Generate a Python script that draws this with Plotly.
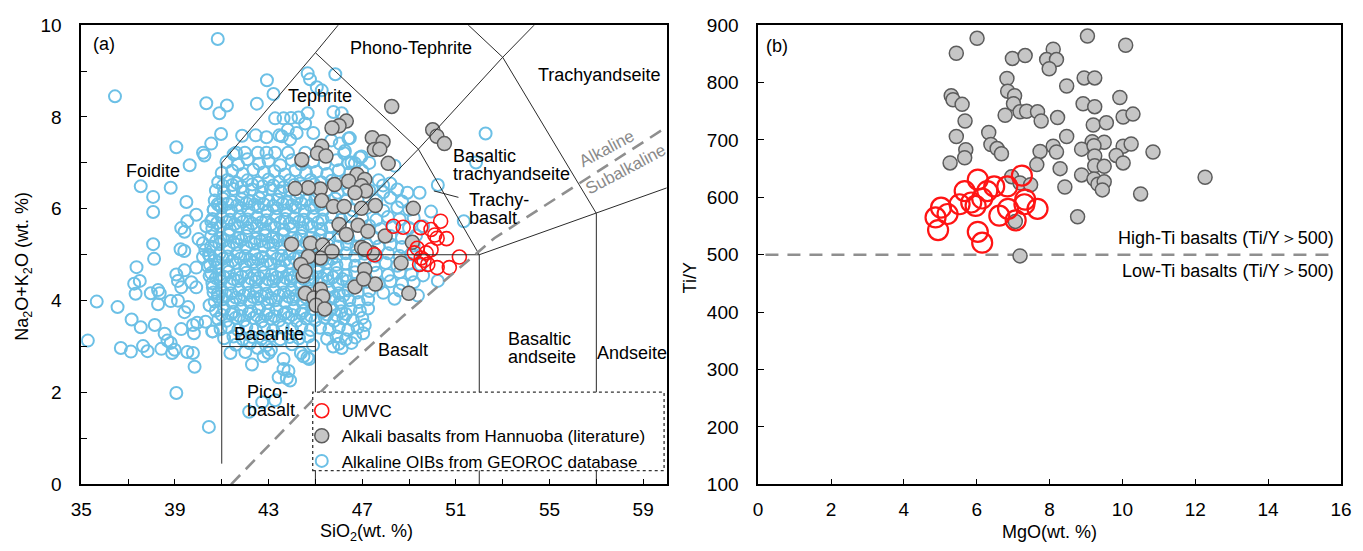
import plotly.graph_objects as go

# Figure size; the captured page is slightly rescaled, so positions are given in picture pixels
# and converted to figure (paper) coordinates with the measured scale/offset.
W, H = 1363, 551
SX, OX = 0.9884, 7.9
SY, OY = 0.97178, 7.77


def px(p):
    return ((p - OX) / SX) / W


def py(p):
    q = (p + 7.6) / 1.0095
    return 1 - ((q - OY) / SY) / H


# ---------------- Panel (a): TAS data ----------------
umvc_sio2 = [48.33, 48.75, 49.50, 49.94, 50.35, 50.10, 50.60, 50.20, 47.52, 49.23, 49.35, 49.52,
             49.73, 49.94, 49.45, 49.80, 50.20, 50.72, 51.15, 49.64]
umvc_alk = [5.62, 5.60, 5.59, 5.55, 5.73, 5.43, 5.35, 5.36, 5.00, 5.04, 5.14, 4.93,
            5.04, 5.11, 4.79, 4.79, 4.72, 4.72, 4.95, 4.88]

hann_sio2 = [48.26, 50.01, 50.19, 50.51, 46.32, 46.01, 45.71, 47.43, 47.89, 47.52, 47.75, 45.27,
             45.09, 45.45, 44.42, 48.11, 46.78, 46.42, 47.11, 46.97, 47.15, 46.69, 45.82, 45.21,
             44.70, 44.14, 45.27, 45.77, 46.23, 46.97, 47.56, 49.18, 46.01, 46.82, 46.32, 47.24,
             47.98, 49.14, 43.98, 44.79, 45.31, 45.71, 45.21, 44.70, 44.38, 46.97, 47.43, 47.11,
             48.66, 44.48, 44.57, 45.21, 44.94, 45.31, 45.03, 45.40, 46.69, 47.56, 47.06, 48.99,
             44.56, 47.11]
hann_alk = [8.23, 7.72, 7.58, 7.42, 7.91, 7.81, 7.76, 7.55, 7.46, 7.29, 7.30, 7.36,
            7.21, 7.15, 7.07, 6.99, 6.75, 6.60, 6.64, 6.50, 6.39, 6.35, 6.53, 6.43,
            6.46, 6.44, 6.18, 6.05, 6.05, 6.01, 6.07, 6.01, 5.66, 5.64, 5.44, 5.51,
            5.41, 5.27, 5.23, 5.25, 5.21, 5.07, 4.93, 4.96, 4.79, 5.16, 5.04, 4.68,
            4.82, 4.54, 4.16, 4.25, 4.06, 4.09, 3.90, 3.82, 4.30, 4.36, 4.47, 4.16,
            4.64, 5.12]

# Alkaline OIBs (GEOROC): scattered points read individually
oib_outer = [
    (40.83, 9.70), (36.44, 8.45), (40.34, 8.30), (41.22, 8.25), (40.90, 8.08), (40.97, 7.63),
    (39.06, 7.34), (40.55, 7.42), (40.20, 7.22), (40.26, 7.16), (39.63, 6.95), (37.54, 6.49),
    (38.82, 6.46), (38.07, 6.26), (38.07, 5.93), (39.49, 6.15), (39.91, 5.87), (40.66, 5.98),
    (40.83, 6.10), (39.27, 5.58), (39.41, 5.50), (39.53, 5.73), (40.34, 5.62), (40.55, 5.73),
    (40.01, 5.34), (38.07, 5.23), (39.24, 5.12), (39.40, 5.08), (40.20, 5.25), (40.30, 5.10),
    (40.45, 5.00), (37.36, 4.73), (38.11, 4.91), (37.26, 4.37), (37.50, 4.43), (37.32, 4.15),
    (35.66, 3.98), (36.55, 3.86), (37.97, 4.16), (38.28, 4.23), (38.35, 4.16), (38.28, 3.92),
    (38.82, 3.99), (37.15, 3.59), (37.54, 3.42), (38.14, 3.47), (35.28, 3.13), (36.69, 2.97),
    (37.12, 2.89), (37.64, 3.01), (37.83, 2.90), (38.42, 2.95), (38.56, 3.28), (38.68, 3.13),
    (38.82, 3.08), (38.99, 2.93), (38.88, 2.86), (39.27, 3.38), (39.53, 2.88), (39.77, 2.86),
    (39.84, 2.56), (39.06, 1.99), (40.45, 1.25), (39.41, 3.75), (39.56, 3.86), (39.77, 3.47),
    (39.81, 3.29), (39.95, 3.52), (40.62, 3.33), (40.48, 3.90), (39.13, 4.43), (39.27, 4.29),
    (39.06, 4.57), (39.41, 4.66), (39.91, 4.72), (39.91, 4.29), (39.70, 4.40), (39.13, 4.00),
    (40.41, 4.75), (40.76, 4.72), (40.48, 4.54), (40.62, 4.29), (40.83, 4.15), (40.20, 4.95),
    (42.93, 8.80), (43.21, 8.50), (44.67, 8.95), (44.77, 8.82), (45.06, 8.65), (45.27, 8.58),
    (42.50, 8.29), (41.87, 7.59), (41.51, 7.19), (43.28, 7.97), (43.64, 7.97), (43.96, 7.98),
    (44.28, 7.99), (44.67, 8.08), (44.56, 7.86), (43.82, 7.72), (43.57, 7.58), (44.20, 7.65),
    (43.92, 7.51), (44.91, 7.65), (45.85, 8.93), (45.77, 8.11), (46.12, 8.08), (46.47, 7.54),
    (46.26, 7.26), (46.54, 7.01), (46.90, 7.12), (48.38, 6.94), (52.27, 7.64), (51.86, 7.01),
    (50.23, 6.52), (48.93, 6.35), (49.45, 6.35), (49.94, 5.94), (51.34, 5.73), (47.89, 6.51),
    (42.45, 7.60), (42.91, 7.56), (43.46, 7.60), (41.61, 7.22), (41.99, 7.22), (42.54, 7.22),
    (42.91, 7.22), (43.28, 7.22), (43.83, 7.22), (44.57, 7.22), (45.68, 7.49), (46.04, 7.42),
    (46.41, 7.53), (46.23, 7.21), (46.69, 6.99), (46.41, 6.99), (46.97, 7.14),
    (40.59, 3.33), (41.37, 2.86), (42.01, 2.88), (42.29, 2.61), (43.64, 2.73), (43.64, 2.51),
    (43.85, 2.47), (43.43, 2.33), (43.78, 2.31), (43.92, 2.26), (44.49, 2.79), (44.73, 2.73),
    (40.31, 3.54), (42.79, 2.79), (43.00, 2.86), (42.73, 1.79), (43.28, 1.83), (42.17, 1.58),
    (42.54, 2.97), (43.10, 2.93), (44.38, 2.86), (44.66, 2.76), (50.23, 4.43), (49.38, 4.11),
    (48.38, 4.04), (47.11, 3.47), (47.04, 3.29), (46.54, 3.08), (46.12, 2.97), (45.76, 3.00),
]

# Alkaline OIBs: the dense central cloud, estimated row by row
oib_core = [
    (41.2, 7.02), (41.7, 6.96), (42.1, 7.08), (42.6, 6.98), (43.0, 7.05), (43.5, 6.95), (44.0, 7.06),
    (44.4, 6.97), (44.9, 7.03), (45.4, 6.98), (45.9, 7.06), (47.3, 7.00),
    (41.0, 6.78), (41.45, 6.83), (41.9, 6.76), (42.35, 6.85), (42.8, 6.79), (43.25, 6.82), (43.7, 6.75),
    (44.15, 6.84), (44.6, 6.78), (45.05, 6.81), (45.5, 6.76), (46.0, 6.84), (46.5, 6.79), (47.0, 6.83),
    (40.85, 6.58), (41.25, 6.63), (41.65, 6.56), (42.1, 6.62), (42.55, 6.57), (43.0, 6.64), (43.45, 6.59),
    (43.9, 6.62), (44.35, 6.55), (44.8, 6.63), (45.25, 6.58), (45.7, 6.61), (46.2, 6.56), (47.7, 6.62),
    (48.2, 6.55),
    (40.75, 6.40), (41.1, 6.35), (41.5, 6.43), (41.9, 6.37), (42.3, 6.42), (42.7, 6.36), (43.1, 6.44),
    (43.5, 6.38), (43.9, 6.41), (44.3, 6.35), (44.7, 6.43), (45.1, 6.37), (45.5, 6.41), (45.95, 6.35),
    (46.4, 6.44), (47.3, 6.40), (47.9, 6.36), (48.5, 6.42),
    (40.7, 6.18), (41.05, 6.22), (41.45, 6.15), (41.85, 6.21), (42.2, 6.16), (42.6, 6.23), (43.0, 6.17),
    (43.4, 6.20), (43.8, 6.14), (44.2, 6.22), (44.6, 6.18), (45.0, 6.21), (45.4, 6.15), (45.85, 6.22),
    (46.3, 6.17), (46.8, 6.20), (47.6, 6.18), (48.2, 6.24), (48.7, 6.16),
    (40.65, 5.98), (41.0, 6.03), (41.4, 5.96), (41.8, 6.02), (42.15, 5.97), (42.55, 6.04), (42.95, 5.95),
    (43.35, 6.01), (43.75, 5.97), (44.15, 6.03), (44.55, 5.96), (44.95, 6.02), (45.35, 5.98), (45.75, 6.04),
    (46.6, 5.97), (47.2, 6.02), (47.9, 5.96), (48.5, 6.03), (49.0, 5.98),
    (40.6, 5.78), (41.0, 5.82), (41.35, 5.76), (41.75, 5.83), (42.1, 5.77), (42.5, 5.81), (42.9, 5.75),
    (43.3, 5.83), (43.7, 5.78), (44.1, 5.80), (44.5, 5.76), (44.9, 5.84), (45.3, 5.77), (45.7, 5.82),
    (46.1, 5.76), (46.5, 5.83), (47.0, 5.79), (47.6, 5.76), (48.1, 5.82), (48.6, 5.77), (49.2, 5.80),
    (40.6, 5.57), (40.95, 5.62), (41.35, 5.55), (41.7, 5.61), (42.1, 5.58), (42.5, 5.63), (42.85, 5.56),
    (43.25, 5.60), (43.65, 5.55), (44.05, 5.62), (44.45, 5.58), (44.85, 5.61), (45.25, 5.56), (45.65, 5.62),
    (46.05, 5.57), (46.45, 5.60), (47.3, 5.63), (47.8, 5.56), (48.3, 5.60), (49.0, 5.58), (49.6, 5.62),
    (40.55, 5.40), (40.95, 5.36), (41.3, 5.43), (41.7, 5.37), (42.05, 5.41), (42.45, 5.35), (42.85, 5.42),
    (43.2, 5.38), (43.6, 5.44), (44.0, 5.36), (44.4, 5.41), (44.8, 5.37), (45.2, 5.43), (45.6, 5.35),
    (46.0, 5.41), (46.4, 5.37), (46.8, 5.43), (47.6, 5.36), (48.2, 5.41), (48.7, 5.37), (49.3, 5.42),
    (40.55, 5.18), (40.9, 5.23), (41.3, 5.16), (41.65, 5.22), (42.05, 5.17), (42.4, 5.24), (42.8, 5.18),
    (43.2, 5.21), (43.55, 5.15), (43.95, 5.22), (44.35, 5.17), (44.75, 5.23), (45.15, 5.16), (45.55, 5.21),
    (45.95, 5.18), (46.35, 5.23), (46.75, 5.16), (47.2, 5.21), (47.7, 5.18), (48.2, 5.23), (48.7, 5.17),
    (49.2, 5.20),
    (40.5, 4.98), (40.9, 5.02), (41.25, 4.96), (41.65, 5.03), (42.0, 4.97), (42.4, 5.01), (42.75, 4.95),
    (43.15, 5.03), (43.55, 4.98), (43.9, 5.02), (44.3, 4.96), (44.7, 5.03), (45.1, 4.97), (45.5, 5.01),
    (45.9, 4.96), (46.3, 5.03), (46.7, 4.98), (47.1, 5.02), (47.6, 4.96), (48.1, 5.03), (48.6, 4.97),
    (49.1, 5.01),
    (40.5, 4.78), (40.85, 4.83), (41.25, 4.76), (41.6, 4.82), (42.0, 4.77), (42.35, 4.84), (42.75, 4.78),
    (43.1, 4.81), (43.5, 4.75), (43.9, 4.83), (44.3, 4.78), (44.7, 4.82), (45.1, 4.76), (45.5, 4.83),
    (45.9, 4.78), (46.3, 4.81), (46.7, 4.76), (47.1, 4.83), (47.5, 4.77), (48.0, 4.82), (48.5, 4.76),
    (49.0, 4.81), (49.5, 4.78),
    (40.55, 4.60), (40.9, 4.56), (41.3, 4.63), (41.65, 4.57), (42.05, 4.61), (42.4, 4.55), (42.8, 4.62),
    (43.15, 4.57), (43.55, 4.63), (43.9, 4.56), (44.3, 4.61), (44.7, 4.57), (45.1, 4.63), (45.5, 4.56),
    (45.9, 4.60), (46.3, 4.55), (46.7, 4.62), (47.1, 4.57), (47.6, 4.61), (48.1, 4.56), (48.6, 4.62),
    (49.1, 4.57), (49.6, 4.55),
    (40.6, 4.38), (40.95, 4.42), (41.35, 4.36), (41.7, 4.43), (42.1, 4.37), (42.45, 4.41), (42.85, 4.35),
    (43.2, 4.42), (43.6, 4.38), (43.95, 4.43), (44.35, 4.36), (44.75, 4.41), (45.15, 4.37), (45.55, 4.43),
    (45.95, 4.36), (46.35, 4.42), (46.75, 4.37), (47.2, 4.41), (47.7, 4.36), (48.2, 4.42), (48.7, 4.37),
    (49.2, 4.40),
    (40.65, 4.18), (41.0, 4.22), (41.4, 4.16), (41.75, 4.23), (42.15, 4.17), (42.5, 4.21), (42.9, 4.15),
    (43.25, 4.22), (43.65, 4.18), (44.0, 4.23), (44.4, 4.16), (44.8, 4.21), (45.2, 4.17), (45.6, 4.23),
    (46.0, 4.16), (46.4, 4.22), (46.8, 4.18), (47.3, 4.21), (47.9, 4.17), (48.6, 4.22),
    (40.7, 3.98), (41.05, 4.03), (41.45, 3.96), (41.8, 4.02), (42.2, 3.97), (42.55, 4.04), (42.95, 3.95),
    (43.3, 4.01), (43.7, 3.97), (44.05, 4.03), (44.45, 3.96), (44.85, 4.02), (45.25, 3.98), (45.65, 4.04),
    (46.05, 3.96), (46.45, 4.01), (46.85, 3.97), (47.25, 4.03),
    (40.75, 3.78), (41.1, 3.83), (41.5, 3.76), (41.85, 3.82), (42.25, 3.77), (42.6, 3.84), (43.0, 3.78),
    (43.35, 3.81), (43.75, 3.75), (44.1, 3.83), (44.5, 3.78), (44.9, 3.82), (45.3, 3.76), (45.7, 3.83),
    (46.1, 3.77), (46.5, 3.82), (46.9, 3.78), (47.25, 3.83),
    (40.85, 3.60), (41.2, 3.56), (41.6, 3.63), (41.95, 3.57), (42.35, 3.62), (42.7, 3.55), (43.1, 3.61),
    (43.45, 3.57), (43.85, 3.63), (44.2, 3.56), (44.6, 3.61), (45.0, 3.57), (45.4, 3.63), (45.8, 3.56),
    (46.2, 3.61), (46.6, 3.57), (47.0, 3.62),
    (40.95, 3.38), (41.3, 3.42), (41.7, 3.36), (42.05, 3.43), (42.45, 3.37), (42.8, 3.41), (43.2, 3.35),
    (43.6, 3.42), (44.0, 3.38), (44.4, 3.43), (44.8, 3.36), (45.2, 3.41), (45.6, 3.37), (46.0, 3.42),
    (46.4, 3.36), (46.8, 3.41),
    (41.1, 3.18), (41.5, 3.22), (41.9, 3.16), (42.3, 3.21), (42.7, 3.17), (43.1, 3.23), (43.5, 3.16),
    (43.9, 3.21), (44.3, 3.18), (44.7, 3.22), (45.5, 3.17), (45.9, 3.22), (46.3, 3.16), (46.7, 3.20),
    (41.6, 3.04), (42.2, 3.07), (42.9, 3.02), (44.0, 3.05), (44.9, 3.03), (46.0, 3.06),
]

# Alkaline OIBs: extra points in the densest part of the cloud
oib_dense = [
    (41.05, 6.50), (41.45, 6.52), (41.85, 6.48), (42.3, 6.53), (42.75, 6.49), (43.2, 6.51), (43.65, 6.47),
    (44.1, 6.52), (44.5, 6.49), (44.95, 6.53),
    (40.9, 6.08), (41.25, 6.11), (41.65, 6.07), (42.05, 6.12), (42.4, 6.09), (42.8, 6.10), (43.2, 6.06),
    (43.6, 6.11), (44.0, 6.08), (44.4, 6.12), (44.8, 6.07), (45.2, 6.10),
    (40.8, 5.69), (41.2, 5.71), (41.55, 5.67), (41.9, 5.72), (42.3, 5.68), (42.7, 5.71), (43.1, 5.66),
    (43.5, 5.70), (43.9, 5.68), (44.3, 5.72), (44.7, 5.67), (45.1, 5.70),
    (40.75, 5.29), (41.1, 5.31), (41.5, 5.27), (41.85, 5.32), (42.25, 5.28), (42.65, 5.30), (43.0, 5.26),
    (43.4, 5.31), (43.8, 5.29), (44.2, 5.32), (44.6, 5.27), (45.0, 5.30),
    (40.7, 4.88), (41.05, 4.91), (41.45, 4.87), (41.8, 4.92), (42.2, 4.89), (42.55, 4.90), (42.95, 4.86),
    (43.35, 4.91), (43.7, 4.88), (44.1, 4.92), (44.5, 4.87), (44.9, 4.90), (45.3, 4.88), (45.7, 4.91),
    (40.75, 4.49), (41.1, 4.51), (41.5, 4.47), (41.85, 4.52), (42.25, 4.48), (42.6, 4.50), (43.0, 4.46),
    (43.35, 4.51), (43.75, 4.49), (44.1, 4.52), (44.5, 4.47), (44.9, 4.50), (45.3, 4.48), (45.75, 4.51),
    (46.15, 4.47),
    (40.85, 4.09), (41.2, 4.11), (41.6, 4.07), (41.95, 4.12), (42.35, 4.08), (42.7, 4.10), (43.1, 4.06),
    (43.45, 4.11), (43.85, 4.09), (44.2, 4.12), (44.6, 4.07), (45.4, 4.10), (45.8, 4.08), (46.2, 4.11),
    (41.0, 3.69), (41.4, 3.71), (41.75, 3.67), (42.15, 3.72), (42.5, 3.68), (42.9, 3.70), (43.25, 3.66),
    (43.65, 3.71), (44.0, 3.69), (44.4, 3.72), (44.8, 3.67), (45.5, 3.70), (45.9, 3.68), (46.3, 3.71),
]
oib_all = oib_outer + oib_core + oib_dense
oib_sio2 = [p[0] for p in oib_all]
oib_alk = [p[1] for p in oib_all]

# TAS field boundaries (SiO2, Na2O+K2O)
tas_boundaries = [
    [(41, 0.45), (41, 7), (45, 9.4), (48.4, 11.5)],
    [(41, 3), (45, 3)],
    [(45, 0), (45, 5), (52, 5), (57, 5.9), (63, 7)],
    [(45, 9.4), (49.4, 7.3), (52, 5)],
    [(45, 5), (49.4, 7.3), (53, 9.3), (57.6, 11.7)],
    [(48.4, 11.5), (53, 9.3), (57, 5.9), (57, 0)],
    [(52, 5), (52, 0)],
    [(50.06, 6.39), (51.11, 6.25)],
]
alk_div_sio2 = [41.4, 45.7, 48.74, 52.64, 60.0]
alk_div_alk = [0.0, 2.26, 3.66, 5.36, 7.78]

tas_xticks = [35, 37, 39, 41, 43, 45, 47, 49, 51, 53, 55, 57, 59]
tas_xticklabels = ["35", "", "39", "", "43", "", "47", "", "51", "", "55", "", "59"]
tas_yticks = [0, 1, 2, 3, 4, 5, 6, 7, 8, 9, 10]
tas_yticklabels = ["0", "", "2", "", "4", "", "6", "", "8", "", "10"]

field_labels = [
    ("Phono-Tephrite", 49.07, 9.50, "center"),
    ("Trachyandseite", 57.13, 8.92, "center"),
    ("Tephrite", 45.20, 8.45, "center"),
    ("Foidite", 38.08, 6.82, "center"),
    ("Basaltic", 50.79, 7.16, "left"),
    ("trachyandseite", 50.79, 6.76, "left"),
    ("Trachy-", 51.48, 6.20, "left"),
    ("basalt", 51.48, 5.81, "left"),
    ("Basanite", 43.00, 3.27, "center"),
    ("Pico-", 42.00, 2.01, "left"),
    ("basalt", 42.00, 1.62, "left"),
    ("Basalt", 48.74, 2.92, "center"),
    ("Basaltic", 53.14, 3.17, "left"),
    ("andseite", 53.14, 2.77, "left"),
    ("Andseite", 58.53, 2.86, "center"),
]

# ---------------- Panel (b): Ti/Y vs MgO ----------------
umvc_mgo = [4.87, 4.94, 5.02, 5.20, 5.53, 5.67, 5.85, 5.97, 6.03, 6.15, 6.29, 6.03, 6.15, 6.48,
            6.84, 6.62, 6.86, 7.07, 7.24, 7.33, 7.31, 7.67]
umvc_tiy = [565, 543, 582, 571, 588, 611, 591, 585, 631, 598, 611, 540, 521, 619,
            619, 568, 580, 560, 638, 596, 588, 580]

hann_mgo = [5.44, 6.01, 6.98, 7.33, 8.10, 7.92, 8.19, 7.99, 6.83, 8.47, 8.95, 9.24, 9.04, 10.09,
            5.30, 5.35, 5.60, 5.68, 5.44, 5.70, 5.67, 5.27, 6.33, 6.39, 6.56, 6.68,
            6.85, 7.04, 7.01, 6.78, 7.19, 7.37, 7.67, 7.77, 8.22, 8.92, 9.24, 9.93, 9.20, 9.56,
            10.02, 10.29, 8.47, 9.17, 9.50, 8.10, 8.19, 7.74, 8.88, 9.22, 9.24, 10.02, 10.24, 9.83,
            10.02, 10.84, 7.65, 8.29, 8.88, 9.24, 9.50, 9.22, 9.33, 9.50, 9.45, 8.42, 6.96, 7.19,
            7.48, 10.50, 12.27, 8.77, 7.06, 7.19]
hann_tiy = [851, 877, 842, 847, 858, 840, 840, 824, 807, 794, 808, 808, 881, 865,
            777, 770, 762, 733, 706, 683, 669, 660, 713, 692, 685, 676,
            785, 777, 763, 743, 749, 750, 749, 733, 739, 763, 758, 774, 726, 730,
            740, 745, 706, 697, 696, 689, 679, 680, 684, 690, 672, 689, 693, 673,
            660, 679, 657, 650, 639, 655, 654, 632, 623, 627, 613, 618, 636, 625,
            622, 606, 635, 566, 558, 498]

tiy_threshold_x = [0.2, 15.8]
tiy_threshold_y = [500, 500]

FONT = "Liberation Sans, Arial, sans-serif"
FS = 18
BLUE = "#6cc0e6"
GRAY_FILL = "#c6c6c6"
GRAY_EDGE = "#5c5c5c"
RED = "#ff1414"

fig = go.Figure()

# Panel (a) markers
fig.add_trace(go.Scatter(
    x=oib_sio2, y=oib_alk, mode="markers", name="Alkaline OIBs from GEOROC database",
    legendrank=3,
    marker=dict(symbol="circle-open", size=12, color=BLUE, line=dict(width=2.0)),
    xaxis="x", yaxis="y", hoverinfo="skip"))
fig.add_trace(go.Scatter(
    x=hann_sio2, y=hann_alk, mode="markers", name="Alkali basalts from Hannuoba (literature)",
    legendrank=2,
    marker=dict(symbol="circle", size=14, color=GRAY_FILL, line=dict(width=1.5, color=GRAY_EDGE)),
    xaxis="x", yaxis="y", hoverinfo="skip"))
fig.add_trace(go.Scatter(
    x=umvc_sio2, y=umvc_alk, mode="markers", name="UMVC",
    legendrank=1,
    marker=dict(symbol="circle-open", size=14, color=RED, line=dict(width=1.6)),
    xaxis="x", yaxis="y", hoverinfo="skip"))

# TAS field lines
for seg in tas_boundaries:
    fig.add_trace(go.Scatter(
        x=[p[0] for p in seg], y=[p[1] for p in seg], mode="lines",
        line=dict(color="#2a2a2a", width=1), showlegend=False, hoverinfo="skip",
        xaxis="x", yaxis="y"))
fig.add_trace(go.Scatter(
    x=alk_div_sio2, y=alk_div_alk, mode="lines",
    line=dict(color="#8f8f8f", width=2.6, dash="13px,8px"), showlegend=False, hoverinfo="skip",
    xaxis="x", yaxis="y"))

# Panel (b)
fig.add_trace(go.Scatter(
    x=tiy_threshold_x, y=tiy_threshold_y, mode="lines",
    line=dict(color="#8f8f8f", width=2.6, dash="13px,9px"), showlegend=False, hoverinfo="skip",
    xaxis="x2", yaxis="y2"))
fig.add_trace(go.Scatter(
    x=hann_mgo, y=hann_tiy, mode="markers", showlegend=False,
    marker=dict(symbol="circle", size=14, color=GRAY_FILL, line=dict(width=1.5, color=GRAY_EDGE)),
    xaxis="x2", yaxis="y2", hoverinfo="skip"))
fig.add_trace(go.Scatter(
    x=umvc_mgo, y=umvc_tiy, mode="markers", showlegend=False,
    marker=dict(symbol="circle-open", size=20, color=RED, line=dict(width=2.2)),
    xaxis="x2", yaxis="y2", hoverinfo="skip"))

axis_common = dict(showline=True, linecolor="black", linewidth=1.6, mirror=True,
                   ticks="inside", ticklen=6, tickwidth=1.4, tickcolor="black",
                   showgrid=False, zeroline=False, ticklabeloverflow="allow",
                   tickfont=dict(family=FONT, size=19, color="black"))

fig.update_layout(
    width=W, height=H, margin=dict(l=0, r=0, t=0, b=0),
    paper_bgcolor="white", plot_bgcolor="white",
    font=dict(family=FONT, size=FS, color="black"),
    xaxis=dict(domain=[px(78.5), px(666.5)], range=[35, 60], tickmode="array",
               tickvals=tas_xticks, ticktext=tas_xticklabels, ticklabelstandoff=7,
               anchor="y", **axis_common),
    yaxis=dict(domain=[py(484), py(15.7)], range=[0, 10], tickmode="array",
               tickvals=tas_yticks, ticktext=tas_yticklabels, ticklabelstandoff=14,
               anchor="x", **axis_common),
    xaxis2=dict(domain=[px(758.5), px(1344)], range=[0, 16], tickmode="array",
                tickvals=[0, 2, 4, 6, 8, 10, 12, 14, 16], ticklabelstandoff=7,
                anchor="y2", **axis_common),
    yaxis2=dict(domain=[py(484), py(15.7)], range=[100, 900], tickmode="array",
                tickvals=[100, 200, 300, 400, 500, 600, 700, 800, 900], ticklabelstandoff=14,
                anchor="x2", **axis_common),
    legend=dict(x=px(300), y=py(391), xanchor="left", yanchor="top",
                bgcolor="rgba(0,0,0,0)", borderwidth=0, tracegroupgap=0,
                font=dict(family=FONT, size=17, color="black")),
    showlegend=True,
)

# Dotted legend frame (white, covers lines below it)
fig.add_shape(type="rect", xref="paper", yref="paper",
              x0=px(311), x1=px(664), y0=py(470), y1=py(390),
              line=dict(color="#333333", width=1.3, dash="dot"), fillcolor="white", layer="above")

annotations = []
for text, xv, yv, anchor in field_labels:
    annotations.append(dict(text=text, x=xv, y=yv, xref="x", yref="y", xanchor=anchor,
                            yanchor="middle", showarrow=False,
                            font=dict(family=FONT, size=FS, color="black")))
annotations += [
    dict(text="(a)", x=35.42, y=9.59, xref="x", yref="y", xanchor="left", yanchor="middle",
         showarrow=False, font=dict(family=FONT, size=FS)),
    dict(text="Alkaline", x=57.47, y=7.31, xref="x", yref="y", textangle=-28,
         xanchor="center", yanchor="middle",
         showarrow=False, font=dict(family=FONT, size=17, color="#8a8a8a")),
    dict(text="Subalkaline", x=58.25, y=6.85, xref="x", yref="y", textangle=-28,
         xanchor="center", yanchor="middle",
         showarrow=False, font=dict(family=FONT, size=17, color="#8a8a8a")),
    dict(text="SiO<sub>2</sub>(wt. %)", x=px(365), y=py(533), xref="paper", yref="paper",
         xanchor="center", yanchor="middle", showarrow=False, font=dict(family=FONT, size=FS)),
    dict(text="Na<sub>2</sub>O+K<sub>2</sub>O (wt. %)", x=px(21), y=py(262),
         xref="paper", yref="paper", textangle=-90, xanchor="center", yanchor="middle",
         showarrow=False, font=dict(family=FONT, size=FS)),
    dict(text="(b)", x=0.17, y=863, xref="x2", yref="y2", xanchor="left", yanchor="middle",
         showarrow=False, font=dict(family=FONT, size=FS)),
    dict(text="High-Ti basalts (Ti/Y\uff1e500)", x=15.87, y=529, xref="x2", yref="y2",
         xanchor="right", yanchor="middle", showarrow=False, font=dict(family=FONT, size=FS)),
    dict(text="Low-Ti basalts (Ti/Y\uff1e500)", x=15.87, y=472, xref="x2", yref="y2",
         xanchor="right", yanchor="middle", showarrow=False, font=dict(family=FONT, size=FS)),
    dict(text="MgO(wt. %)", x=px(1051), y=py(533), xref="paper", yref="paper",
         xanchor="center", yanchor="middle", showarrow=False, font=dict(family=FONT, size=FS)),
    dict(text="Ti/Y", x=px(690), y=py(273), xref="paper", yref="paper", textangle=-90,
         xanchor="center", yanchor="middle", showarrow=False, font=dict(family=FONT, size=FS)),
]
fig.update_layout(annotations=annotations)

fig.write_html("out.html")
